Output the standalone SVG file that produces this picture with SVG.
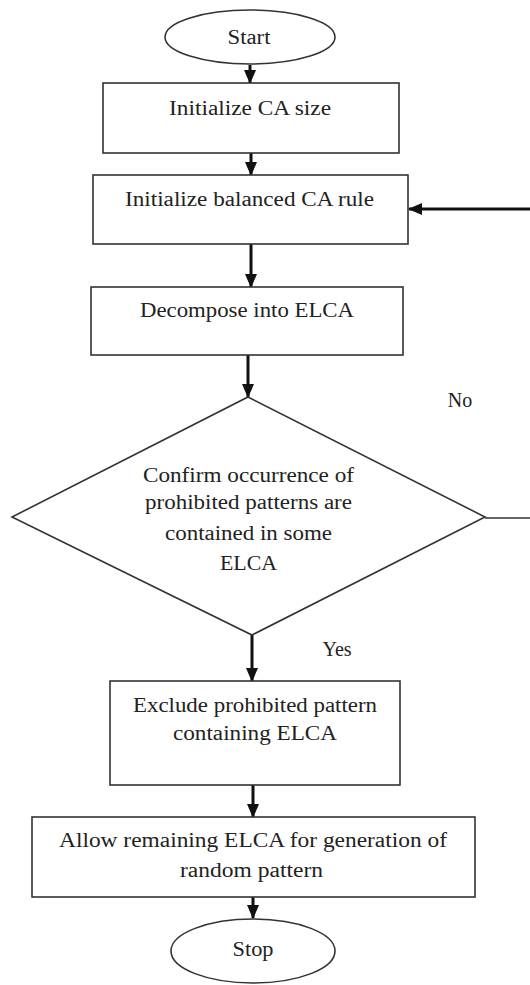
<svg xmlns="http://www.w3.org/2000/svg" width="530" height="985" viewBox="0 0 530 985">
<style>
.shape{fill:#fff;stroke:#333;stroke-width:1.6}
.t{font-family:"Liberation Serif","Times New Roman",serif;font-size:20px;fill:#222;text-anchor:middle}
.c{stroke:#111;stroke-width:3;fill:none}
.thin{stroke:#333;stroke-width:1.6;fill:none}
</style>
<defs>
<marker id="ah" markerUnits="userSpaceOnUse" markerWidth="14" markerHeight="14" viewBox="0 0 14 14" refX="13" refY="7" orient="auto">
<path d="M0,1 L14,7 L0,13 Z" fill="#111"/>
</marker>
</defs>
<rect width="530" height="985" fill="#fff"/>
<g id="connectors">
<line class="c" x1="250" y1="65" x2="250" y2="83" marker-end="url(#ah)"/>
<line class="c" x1="251" y1="153" x2="251" y2="175" marker-end="url(#ah)"/>
<line class="c" x1="251" y1="244" x2="251" y2="287" marker-end="url(#ah)"/>
<line class="c" x1="248" y1="355" x2="248" y2="397" marker-end="url(#ah)"/>
<line class="c" x1="252" y1="635" x2="252" y2="681" marker-end="url(#ah)"/>
<line class="c" x1="253" y1="785" x2="253" y2="817" marker-end="url(#ah)"/>
<line class="c" x1="253" y1="897" x2="253" y2="918" marker-end="url(#ah)"/>
<line class="thin" x1="485" y1="518" x2="530" y2="518"/>
<line class="c" x1="530" y1="209" x2="409" y2="209" marker-end="url(#ah)"/>
<text class="t" x="460" y="407">No</text>
<text class="t" x="337" y="656">Yes</text>
</g>
<g id="start">
<ellipse class="shape" cx="250" cy="37" rx="85" ry="27"/>
<text class="t" x="249" y="44" textLength="43" lengthAdjust="spacingAndGlyphs">Start</text>
</g>
<g id="init-size">
<rect class="shape" x="103" y="83" width="296" height="70"/>
<text class="t" x="250" y="115" textLength="162" lengthAdjust="spacingAndGlyphs">Initialize CA size</text>
</g>
<g id="init-rule">
<rect class="shape" x="93" y="175" width="315" height="69"/>
<text class="t" x="249.5" y="206" textLength="249" lengthAdjust="spacingAndGlyphs">Initialize balanced CA rule</text>
</g>
<g id="decompose">
<rect class="shape" x="91" y="287" width="312" height="68"/>
<text class="t" x="247" y="317" textLength="214" lengthAdjust="spacingAndGlyphs">Decompose into ELCA</text>
</g>
<g id="confirm">
<polygon class="shape" points="248,397 485,517 252,635 12,517"/>
<text class="t" x="248.5" y="482" textLength="211" lengthAdjust="spacingAndGlyphs">Confirm occurrence of</text>
<text class="t" x="248.5" y="509" textLength="207" lengthAdjust="spacingAndGlyphs">prohibited patterns are</text>
<text class="t" x="248.5" y="540" textLength="167" lengthAdjust="spacingAndGlyphs">contained in some</text>
<text class="t" x="248.5" y="570" textLength="57" lengthAdjust="spacingAndGlyphs">ELCA</text>
</g>
<g id="exclude">
<rect class="shape" x="110" y="681" width="290" height="104"/>
<text class="t" x="255" y="712" textLength="244" lengthAdjust="spacingAndGlyphs">Exclude prohibited pattern</text>
<text class="t" x="255" y="740" textLength="164" lengthAdjust="spacingAndGlyphs">containing ELCA</text>
</g>
<g id="allow">
<rect class="shape" x="32" y="817" width="443" height="80"/>
<text class="t" x="253" y="847" textLength="388" lengthAdjust="spacingAndGlyphs">Allow remaining ELCA for generation of</text>
<text class="t" x="251.5" y="877" textLength="143" lengthAdjust="spacingAndGlyphs">random pattern</text>
</g>
<g id="stop">
<ellipse class="shape" cx="253" cy="951" rx="82" ry="32"/>
<text class="t" x="253" y="956" textLength="41" lengthAdjust="spacingAndGlyphs">Stop</text>
</g>
</svg>
